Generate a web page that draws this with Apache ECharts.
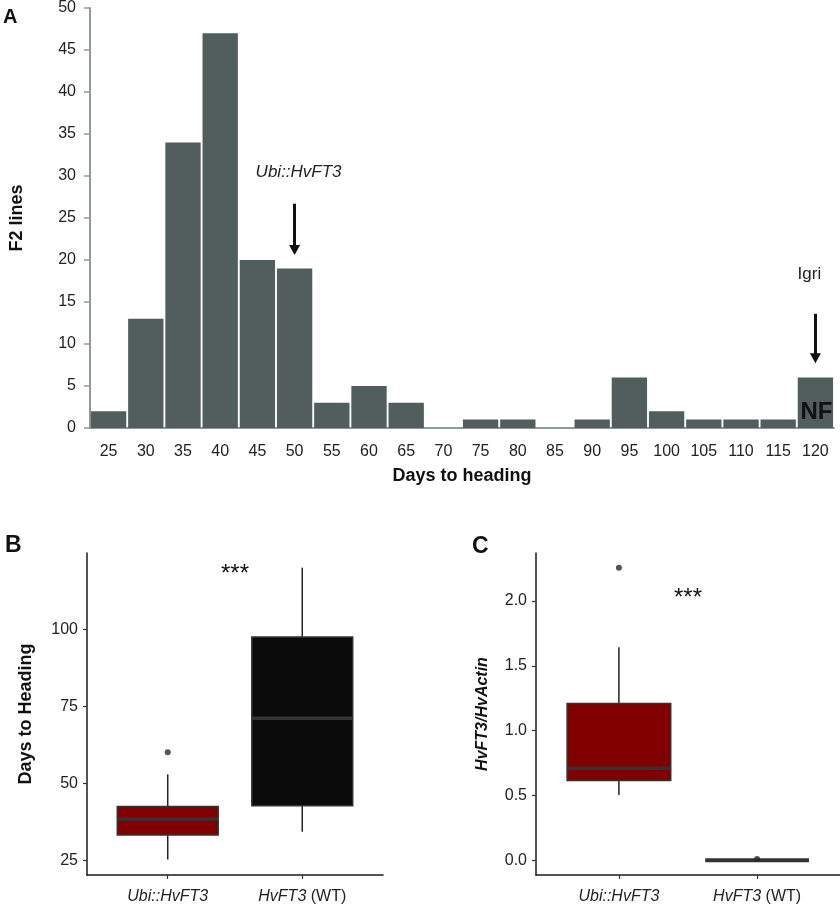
<!DOCTYPE html>
<html><head><meta charset="utf-8">
<script src="https://cdn.jsdelivr.net/npm/echarts@6/dist/echarts.min.js"></script>
<style>html,body{margin:0;padding:0;background:#fff}#c{width:840px;height:905px}</style>
</head><body><div id="c"></div>
<script>
// ---- Panel A: histogram of days to heading ----
const days = ['25','30','35','40','45','50','55','60','65','70','75','80','85','90','95','100','105','110','115','120'];
const f2Lines = [2,13,34,47,20,19,3,5,3,0,1,1,0,1,6,2,1,1,1,6];
const f2Ticks = [0,5,10,15,20,25,30,35,40,45,50];

// ---- Panels B & C: box plots ----
const groupItalic = ['Ubi::HvFT3','HvFT3'];
const groupSuffix = ['',' (WT)'];
const groupPos = [1,2];
// [lowerWhisker, q1, median, q3, upperWhisker]
const headingBox = [[25.3,33.2,38.4,42.5,52.9],[34.3,42.7,71.1,97.5,120]];
const headingOutliers = [[1,60.1]];
const headingTicks = [25,50,75,100];
const exprBox = [[0.503,0.615,0.71,1.21,1.644],[0,0,0,0,0]];
const exprOutliers = [[1,2.257],[2,0.01]];
const exprTicks = [0,0.5,1,1.5,2];
const boxFills = ['#800000','#0b0b0b'];

const FONT = "'Liberation Sans', Arial, Helvetica, sans-serif";
const chart = echarts.init(document.getElementById('c'), null, {renderer:'canvas'});

function boxRender(params, api){
  const x = api.value(0);
  const lo=api.value(1), q1=api.value(2), med=api.value(3), q3=api.value(4), hi=api.value(5);
  const w = api.size([0.75,0])[0];
  const pLo=api.coord([x,lo]), pQ1=api.coord([x,q1]), pMed=api.coord([x,med]), pQ3=api.coord([x,q3]), pHi=api.coord([x,hi]);
  const cx = pLo[0];
  const fill = boxFills[params.dataIndex];
  const flat = (pQ1[1]-pQ3[1]) < 1;
  return {type:'group', children:[
    {type:'line', shape:{x1:cx,y1:pHi[1],x2:cx,y2:pQ3[1]}, style:{stroke:'#222',lineWidth:1.5}},
    {type:'line', shape:{x1:cx,y1:pQ1[1],x2:cx,y2:pLo[1]}, style:{stroke:'#222',lineWidth:1.5}},
    {type:'rect', shape:{x:cx-w/2,y:pQ3[1],width:w,height:Math.max(0,pQ1[1]-pQ3[1])}, style:{fill:fill, stroke:'#333',lineWidth:1.5}},
    {type:'line', shape:{x1:cx-w/2,y1:pMed[1],x2:cx+w/2,y2:pMed[1]}, style:{stroke:'#333',lineWidth:flat?4:3.5}}
  ]};
}

function boxXAxis(gi){
  return {gridIndex:gi, type:'value', min:0.4, max:2.6,
    splitLine:{show:false},
    axisLine:{show:true,onZero:false,lineStyle:{color:'#1a1a1a',width:1.5}},
    axisTick:{show:true,customValues:groupPos,length:4,lineStyle:{color:'#333',width:1.2}},
    axisLabel:{customValues:groupPos, margin:14, fontFamily:FONT, fontSize:16, color:'#222',
      formatter:function(v){const i=Math.round(v)-1; return '{i|'+groupItalic[i]+'}'+(groupSuffix[i]?'{n|'+groupSuffix[i]+'}':'');},
      rich:{i:{fontStyle:'italic',fontFamily:FONT,fontSize:16,color:'#222'},n:{fontFamily:FONT,fontSize:16,color:'#222'}}}
  };
}
function boxYAxis(gi,min,max,ticks,name,fmt,nameGap,nameStyle){
  return {gridIndex:gi, type:'value', min:min, max:max,
    splitLine:{show:false},
    axisLine:{show:true,onZero:false,lineStyle:{color:'#1a1a1a',width:1.5}},
    axisTick:{show:true,customValues:ticks,length:4,lineStyle:{color:'#333',width:1.2}},
    axisLabel:{customValues:ticks,margin:9,fontFamily:FONT,fontSize:16,color:'#222',formatter:fmt},
    name:name, nameLocation:'middle', nameGap:nameGap,
    nameTextStyle:Object.assign({fontFamily:FONT,fontWeight:'bold',color:'#111'},nameStyle)
  };
}

chart.setOption({
  animation:false,
  backgroundColor:'#fff',
  grid:[
    {left:88,right:6,top:6,height:422},
    {left:87,top:553,width:296,height:323},
    {left:536,top:553,width:304,height:323}
  ],
  xAxis:[
    {gridIndex:0,type:'category',data:days,
      axisLine:{show:true,lineStyle:{color:'#8e9999',width:2}},
      axisTick:{show:false},
      axisLabel:{interval:0,margin:16,fontFamily:FONT,fontSize:16,color:'#222'},
      name:'Days to heading',nameLocation:'middle',nameGap:39,
      nameTextStyle:{fontFamily:FONT,fontWeight:'bold',fontSize:18,color:'#111'}},
    boxXAxis(1), boxXAxis(2)
  ],
  yAxis:[
    {gridIndex:0,type:'value',min:f2Ticks[0],max:f2Ticks[f2Ticks.length-1],interval:5,
      splitLine:{show:false},
      axisLine:{show:true,lineStyle:{color:'#8e9999',width:2}},
      axisTick:{show:true,length:6,lineStyle:{color:'#8e9999',width:1.5}},
      axisLabel:{margin:14,fontFamily:FONT,fontSize:16,color:'#222'},
      name:'F2 lines',nameLocation:'middle',nameGap:64,
      nameTextStyle:{fontFamily:FONT,fontWeight:'bold',fontSize:18,color:'#111'}},
    boxYAxis(1,20.25,124.75,headingTicks,'Days to Heading',v=>String(v),52,{fontSize:18}),
    boxYAxis(2,-0.113,2.37,exprTicks,'HvFT3/HvActin',v=>v.toFixed(1),45,{fontSize:16,fontStyle:'italic'})
  ],
  series:[
    {type:'bar',xAxisIndex:0,yAxisIndex:0,data:f2Lines,barCategoryGap:'5%',
      itemStyle:{color:'#525e5e'},
      markLine:{silent:true,symbol:['none','triangle'],symbolSize:[11,10],
        lineStyle:{color:'#111',width:3,type:'solid'},label:{show:false},
        data:[[{coord:['50',26.7]},{coord:['50',21.2]}],[{coord:['120',13.6]},{coord:['120',8.3]}]]},
      markPoint:{silent:true,symbol:'circle',symbolSize:0,
        data:[
          {coord:['50',30.45],label:{show:true,formatter:'Ubi::HvFT3',offset:[4,0],fontFamily:FONT,fontSize:17,fontStyle:'italic',color:'#222'}},
          {coord:['120',18.3],label:{show:true,formatter:'Igri',offset:[-6,0],fontFamily:FONT,fontSize:17,color:'#222'}},
          {coord:['120',1.9],label:{show:true,formatter:'NF',offset:[1,0],fontFamily:FONT,fontSize:24,fontWeight:'bold',color:'#111'}}
        ]}
    },
    {type:'custom',xAxisIndex:1,yAxisIndex:1,renderItem:boxRender,
      encode:{x:0,y:[1,2,3,4,5]},
      data:groupPos.map((p,i)=>[p].concat(headingBox[i]))},
    {type:'scatter',xAxisIndex:1,yAxisIndex:1,data:headingOutliers,symbolSize:6,itemStyle:{color:'#2a2a2a'}},
    {type:'custom',xAxisIndex:2,yAxisIndex:2,renderItem:boxRender,
      encode:{x:0,y:[1,2,3,4,5]},
      data:groupPos.map((p,i)=>[p].concat(exprBox[i]))},
    {type:'scatter',xAxisIndex:2,yAxisIndex:2,data:exprOutliers,symbolSize:6,itemStyle:{color:'#2a2a2a'}}
  ]
});

const sB = chart.convertToPixel({xAxisIndex:1,yAxisIndex:1},[1.5,119.4]);
const sC = chart.convertToPixel({xAxisIndex:2,yAxisIndex:2},[1.5,2.05]);
chart.setOption({graphic:[
  {type:'text',left:3,top:7,style:{text:'A',font:"bold 20px "+FONT,fill:'#111'}},
  {type:'text',left:5,top:534,style:{text:'B',font:"bold 23px "+FONT,fill:'#111'}},
  {type:'text',left:472,top:535,style:{text:'C',font:"bold 23px "+FONT,fill:'#111'}},
  {type:'text',x:sB[0],y:sB[1]+5,style:{text:'***',font:"24px "+FONT,fill:'#111',textAlign:'center',textVerticalAlign:'middle'}},
  {type:'text',x:sC[0],y:sC[1]+4,style:{text:'***',font:"24px "+FONT,fill:'#111',textAlign:'center',textVerticalAlign:'middle'}}
]});
</script>
</body></html>
